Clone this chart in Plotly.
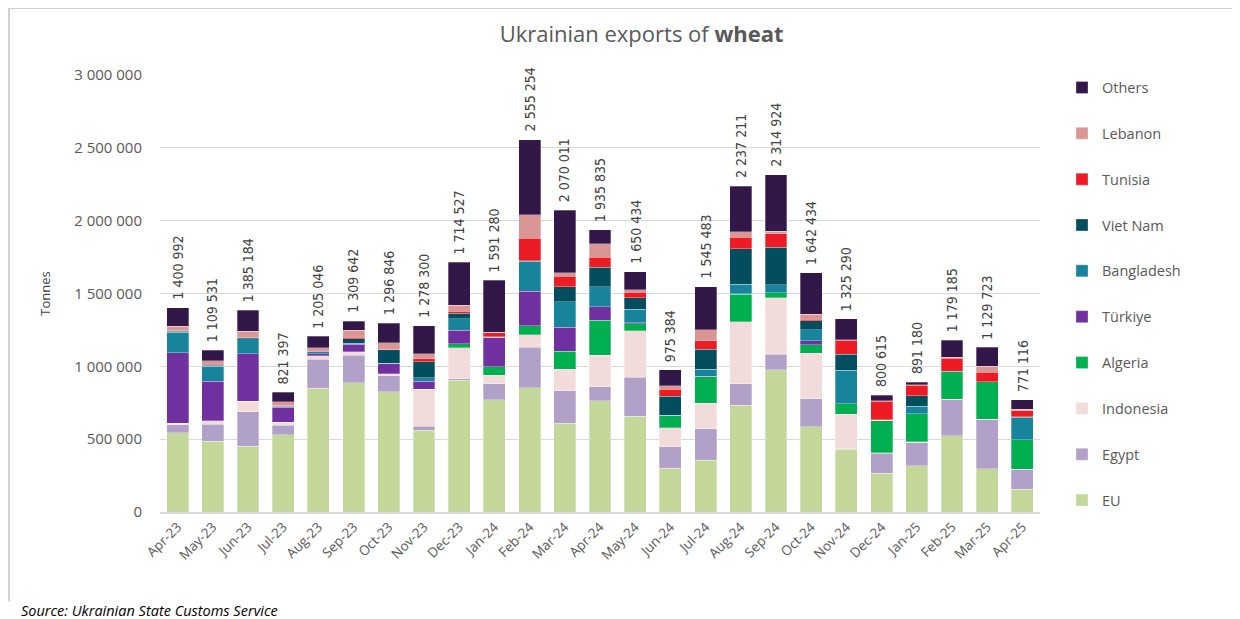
import plotly.graph_objects as go

months = ["Apr-23", "May-23", "Jun-23", "Jul-23", "Aug-23", "Sep-23", "Oct-23", "Nov-23", "Dec-23",
          "Jan-24", "Feb-24", "Mar-24", "Apr-24", "May-24", "Jun-24", "Jul-24", "Aug-24", "Sep-24",
          "Oct-24", "Nov-24", "Dec-24", "Jan-25", "Feb-25", "Mar-25", "Apr-25"]

# thousand tonnes
eu         = [545, 487, 450, 530, 850, 888, 824, 560, 904, 770, 854, 611, 763, 659, 301, 354, 733, 976, 586, 430, 266, 317, 523, 296, 156]
egypt      = [55, 117, 237, 66, 200, 188, 110, 30, 11, 109, 278, 223, 96, 267, 147, 216, 147, 106, 193, 5, 138, 160, 248, 339, 133]
indonesia  = [8, 21, 75, 20, 21, 25, 16, 252, 214, 59, 85, 147, 216, 319, 131, 177, 425, 390, 312, 236, 3, 4, 3, 2, 5]
algeria    = [0, 0, 0, 0, 0, 0, 0, 0, 27, 58, 62, 122, 241, 46, 83, 183, 190, 33, 58, 71, 224, 193, 190, 258, 202]
turkiye    = [485, 274, 323, 103, 16, 51, 69, 57, 92, 201, 235, 167, 92, 9, 0, 2, 2, 0, 27, 0, 0, 0, 0, 0, 0]
bangladesh = [140, 103, 105, 8, 13, 5, 3, 23, 78, 3, 206, 173, 138, 92, 3, 49, 67, 55, 76, 230, 0, 53, 0, 0, 156]
viet_nam   = [8, 4, 5, 3, 4, 33, 93, 108, 39, 3, 5, 105, 135, 80, 130, 138, 244, 257, 62, 110, 3, 71, 3, 0, 3]
tunisia    = [3, 8, 2, 3, 8, 10, 3, 21, 14, 27, 154, 71, 67, 37, 46, 57, 78, 92, 9, 96, 128, 71, 88, 66, 40]
lebanon    = [30, 25, 45, 25, 14, 48, 43, 34, 41, 3, 161, 23, 94, 16, 25, 74, 37, 18, 35, 3, 3, 4, 9, 39, 12]
others     = [127, 70, 143, 63, 79, 62, 136, 193, 295, 358, 515, 428, 94, 125, 109, 295, 314, 388, 284, 144, 36, 18, 115, 130, 64]

totals = [1400992, 1109531, 1385184, 821397, 1205046, 1309642, 1296846, 1278300, 1714527,
          1591280, 2555254, 2070011, 1935835, 1650434, 975384, 1545483, 2237211, 2314924,
          1642434, 1325290, 800615, 891180, 1179185, 1129723, 771116]

series = [
    ("EU", eu, "#C4D79B"),
    ("Egypt", egypt, "#B1A0C7"),
    ("Indonesia", indonesia, "#F2DCDB"),
    ("Algeria", algeria, "#00B050"),
    ("Türkiye", turkiye, "#7030A0"),
    ("Bangladesh", bangladesh, "#17849C"),
    ("Viet Nam", viet_nam, "#034E5E"),
    ("Tunisia", tunisia, "#ED1C24"),
    ("Lebanon", lebanon, "#DA9694"),
    ("Others", others, "#321848"),
]

FONT = "Open Sans, Lato"

fig = go.Figure()
for i, (name, vals, color) in enumerate(series):
    fig.add_trace(go.Bar(
        x=months, y=[v * 1000 for v in vals], name=name, legendgroup=name,
        legendrank=len(series) - i,
        marker=dict(color=color, line=dict(color="rgba(255,255,255,0.5)", width=0.6)),
        hovertemplate="%{x}<br>" + name + ": %{y:,d}<extra></extra>",
    ))

for m, t in zip(months, totals):
    fig.add_annotation(
        x=m, y=t, text=f"{t:,}".replace(",", " "), textangle=-90, showarrow=False,
        yanchor="bottom", yshift=6,
        font=dict(family="Liberation Sans Narrow, DejaVu Sans Condensed, Arial Narrow", size=14, color="#404040"),
    )

fig.add_annotation(
    text="Source: Ukrainian State Customs Service", xref="paper", yref="paper",
    x=-0.16, y=-0.225, xanchor="left", yanchor="middle", showarrow=False,
    font=dict(family=FONT, size=14.5, color="#000000", style="italic"),
)

# chart frame
fig.add_shape(type="line", xref="paper", yref="paper", x0=-0.1715, x1=-0.1715, y0=1.153, y1=-0.205,
              line=dict(color="#D0D0D0", width=2))
fig.add_shape(type="line", xref="paper", yref="paper", x0=-0.1727, x1=1.23, y0=1.153, y1=1.153,
              line=dict(color="#D0D0D0", width=1.5))

fig.update_layout(
    width=1240, height=619,
    barmode="stack", bargap=0.38,
    separators=". ",
    plot_bgcolor="white", paper_bgcolor="white",
    margin=dict(l=152, r=208, t=67, b=115, autoexpand=False),
    title=dict(text="Ukrainian exports of <b>wheat</b>", x=0.511, xanchor="center",
               y=0.958, yanchor="middle",
               font=dict(family=FONT, size=22, color="#595959")),
    font=dict(family=FONT, color="#595959"),
    xaxis=dict(tickangle=-45, tickfont=dict(size=13.5, color="#595959"), showline=True,
               linecolor="#D9D9D9", linewidth=1.5, ticks="", automargin=False),
    yaxis=dict(range=[0, 3000000], dtick=500000, tickformat=",d", gridcolor="#D9D9D9",
               tickfont=dict(size=15, color="#595959"), zeroline=False, ticklen=14, ticks="outside",
               tickcolor="white", automargin=False,
               title=dict(text="Tonnes", font=dict(size=13, color="#404040"), standoff=20)),
    legend=dict(x=1.025, y=1.008, xanchor="left", yanchor="top", traceorder="grouped",
                tracegroupgap=24, font=dict(size=14.5, color="#595959"), maxheight=560),
    showlegend=True,
)

fig.write_html("out.html")
